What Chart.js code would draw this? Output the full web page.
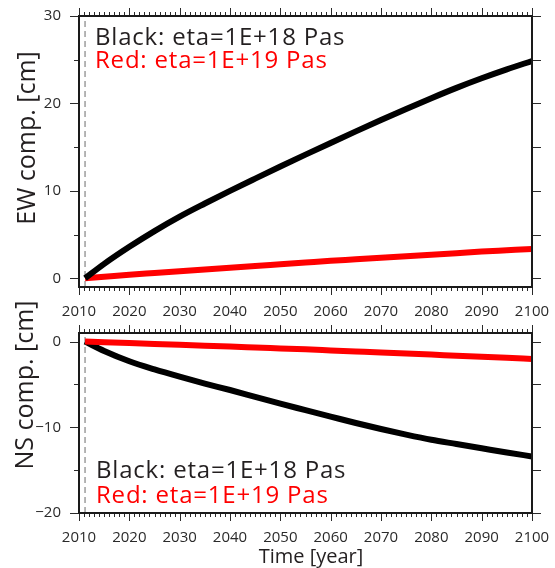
<!DOCTYPE html>
<html>
<head>
<meta charset="utf-8">
<script src="https://cdn.jsdelivr.net/npm/chart.js@4"></script>
<style>
    html, body { margin: 0; padding: 0; background: #fff; }
    #wrap { position: relative; width: 555px; height: 568px; }
    .box { position: absolute; left: 0; width: 555px; }
</style>
</head>
<body>
<div id="wrap">
    <div class="box" style="top:0;height:325px"><canvas id="ew-chart"></canvas></div>
    <div class="box" style="top:290px;height:278px"><canvas id="ns-chart"></canvas></div>
</div>
<script>
// values (cm), time in years
const quakeYear = 2011.2;
const years   = [2011.2, 2015, 2020, 2025, 2030, 2035, 2040, 2045, 2050, 2055, 2060, 2065, 2070, 2075, 2080, 2085, 2090, 2095, 2100];
const ewBlack = [0, 1.65, 3.6, 5.4, 7.05, 8.55, 10.0, 11.4, 12.78, 14.14, 15.48, 16.8, 18.1, 19.37, 20.6, 21.78, 22.88, 23.9, 24.85];
const ewRed   = [0, 0.17, 0.4, 0.6, 0.8, 1.0, 1.2, 1.4, 1.6, 1.8, 2.0, 2.17, 2.35, 2.52, 2.7, 2.87, 3.05, 3.2, 3.35];
const nsBlack = [0, -1.1, -2.3, -3.25, -4.1, -4.9, -5.65, -6.45, -7.25, -8.0, -8.75, -9.5, -10.2, -10.85, -11.45, -11.95, -12.45, -12.95, -13.4];
const nsRed   = [0, -0.08, -0.18, -0.28, -0.38, -0.48, -0.58, -0.69, -0.8, -0.91, -1.03, -1.15, -1.27, -1.4, -1.52, -1.65, -1.77, -1.9, -2.02];

const xRange  = [2010, 2100];
const ewRange = [-1, 30];
const nsRange = [-20, 1];
const xTicks  = [2010, 2020, 2030, 2040, 2050, 2060, 2070, 2080, 2090, 2100];
const ewTicks = [0, 10, 20, 30];
const nsTicks = [0, -10, -20];
const legendLines = ["Black: eta=1E+18 Pas", "Red: eta=1E+19 Pas"];

const TEXT = "#231f20";
const RED = "rgb(255, 0, 0)";

function curve(values, color, order) {
    return {
        data: years.map((x, i) => ({x: x, y: values[i]})),
        borderColor: color,
        borderWidth: 6,
        pointRadius: 0,
        fill: false,
        cubicInterpolationMode: "monotone",
        order: order
    };
}

function quakeLine(range) {
    return {
        data: [{x: quakeYear, y: range[0]}, {x: quakeYear, y: range[1]}],
        borderColor: "#9d9d9d",
        borderWidth: 1.5,
        borderDash: [6, 4],
        pointRadius: 0,
        fill: false,
        order: 5
    };
}

function minusSign(v) {
    return v < 0 ? "\u2212" + Math.abs(v) : String(v);
}

// frame, outer ticks, legend text and axis titles
const frameTicks = {
    id: "frameTicks",
    afterDatasetsDraw(chart, args, opts) {
        const {ctx, chartArea: a, scales: {x, y}} = chart;
        ctx.save();
        ctx.strokeStyle = "#2a2a2a";
        ctx.lineWidth = 1;
        ctx.beginPath();
        for (let yr = xRange[0]; yr <= xRange[1]; yr++) {
            const px = Math.round(x.getPixelForValue(yr)) + 0.5;
            const len = yr % 10 === 0 ? 8 : 4;
            ctx.moveTo(px, a.bottom); ctx.lineTo(px, a.bottom + len);
            ctx.moveTo(px, a.top); ctx.lineTo(px, a.top - len);
        }
        for (let v = Math.ceil(y.min / 5) * 5; v <= y.max; v += 5) {
            const py = Math.round(y.getPixelForValue(v)) + 0.5;
            const len = v % 10 === 0 ? 9 : 5;
            ctx.moveTo(a.left, py); ctx.lineTo(a.left - len, py);
            ctx.moveTo(a.right, py); ctx.lineTo(a.right + 9, py);
        }
        ctx.stroke();

        ctx.lineWidth = 2;
        ctx.strokeStyle = "#1a1a1a";
        ctx.strokeRect(a.left, a.top, a.right - a.left, a.bottom - a.top);

        ctx.font = "24px 'Open Sans'";
        ctx.letterSpacing = "0.8px";
        ctx.textAlign = "left";
        ctx.textBaseline = "alphabetic";
        ctx.fillStyle = TEXT;
        ctx.fillText(legendLines[0], opts.legendX, opts.legendY[0]);
        ctx.fillStyle = RED;
        ctx.fillText(legendLines[1], opts.legendX, opts.legendY[1]);
        ctx.letterSpacing = "0px";

        ctx.fillStyle = TEXT;
        ctx.font = "25px 'Open Sans'";
        ctx.textAlign = "center";
        ctx.textBaseline = "middle";
        ctx.translate(opts.titleX, opts.titleY);
        ctx.rotate(-Math.PI / 2);
        ctx.fillText(opts.title, 0, 0);
        ctx.restore();

        if (opts.xTitle) {
            ctx.save();
            ctx.fillStyle = TEXT;
            ctx.font = "20px 'Open Sans'";
            ctx.textAlign = "center";
            ctx.textBaseline = "alphabetic";
            ctx.fillText(opts.xTitle, opts.xTitleX, opts.xTitleY);
            ctx.restore();
        }
    }
};

function makeChart(id, datasets, yRange, yTicks, padTop, xHeight, extra) {
    return new Chart(document.getElementById(id), {
        type: "line",
        data: {datasets: datasets},
        options: {
            responsive: true,
            maintainAspectRatio: false,
            animation: false,
            layout: {padding: {top: padTop, right: 23, left: 0, bottom: 0}},
            plugins: {legend: {display: false}, tooltip: {enabled: false}, frameTicks: extra},
            scales: {
                x: {
                    type: "linear",
                    min: xRange[0],
                    max: xRange[1],
                    grid: {display: false},
                    border: {display: false},
                    afterBuildTicks: s => { s.ticks = xTicks.map(v => ({value: v})); },
                    afterFit: s => { s.height = xHeight; s.paddingLeft = 0; s.paddingRight = 0; },
                    ticks: {
                        color: "#2a2a2a",
                        font: {family: "'Open Sans'", size: 15},
                        padding: 8,
                        maxRotation: 0,
                        autoSkip: false,
                        callback: v => String(v)
                    }
                },
                y: {
                    type: "linear",
                    min: yRange[0],
                    max: yRange[1],
                    grid: {display: false},
                    border: {display: false},
                    afterBuildTicks: s => { s.ticks = yTicks.map(v => ({value: v})); },
                    afterFit: s => { s.width = 79; s.paddingTop = 0; s.paddingBottom = 0; },
                    ticks: {
                        color: "#2a2a2a",
                        font: {family: "'Open Sans'", size: 15},
                        padding: 10,
                        autoSkip: false,
                        callback: v => minusSign(v)
                    }
                }
            }
        },
        plugins: [frameTicks]
    });
}

makeChart("ew-chart",
    [quakeLine(ewRange), curve(ewRed, RED, 2), curve(ewBlack, "#000", 1)],
    ewRange, ewTicks, 16, 38,
    {legendX: 95, legendY: [45, 68], title: "EW comp. [cm]", titleX: 28, titleY: 138});

makeChart("ns-chart",
    [quakeLine(nsRange), curve(nsBlack, "#000", 2), curve(nsRed, RED, 1)],
    nsRange, nsTicks, 43, 55,
    {legendX: 96, legendY: [188, 213], title: "NS comp. [cm]", titleX: 26, titleY: 95,
     xTitle: "Time [year]", xTitleX: 311, xTitleY: 273});
</script>
</body>
</html>
